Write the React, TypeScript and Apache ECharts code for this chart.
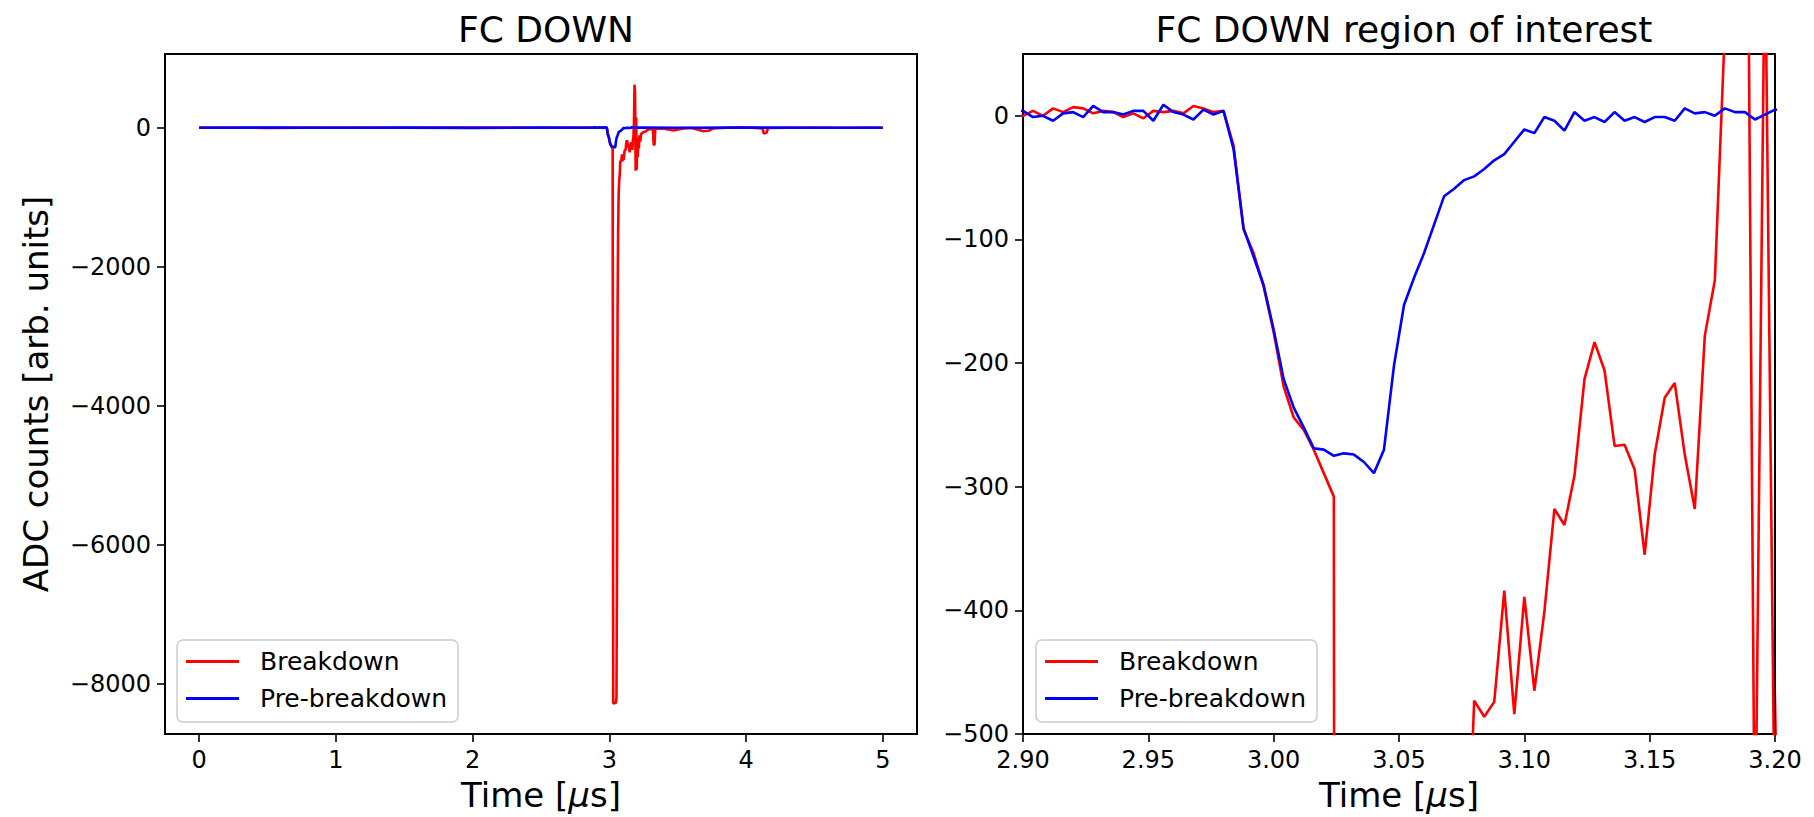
import React, { useEffect, useRef } from "react";
import * as echarts from "echarts";

// Baseline before the region of interest (µs, ADC counts)
const baselineTime = [0, 0.5, 1.0, 1.5, 2.0, 2.5, 2.85];
const breakdownBaseline = [1, -2, 2, 0, 3, -1, 2];
const preBreakdownBaseline = [0, 2, -1, 1, -2, 1, 0];

// Region of interest, one sample every 4 ns
const roiTime = [
  2.9, 2.904, 2.908, 2.912, 2.916, 2.92, 2.924, 2.928, 2.932, 2.936,
  2.94, 2.944, 2.948, 2.952, 2.956, 2.96, 2.964, 2.968, 2.972, 2.976,
  2.98, 2.984, 2.988, 2.992, 2.996, 3.0, 3.004, 3.008, 3.012, 3.016,
  3.02, 3.024, 3.028, 3.032, 3.036, 3.04, 3.044, 3.048, 3.052, 3.056,
  3.06, 3.064, 3.068, 3.072, 3.076, 3.08, 3.084, 3.088, 3.092, 3.096,
  3.1, 3.104, 3.108, 3.112, 3.116, 3.12, 3.124, 3.128, 3.132, 3.136,
  3.14, 3.144, 3.148, 3.152, 3.156, 3.16, 3.164, 3.168, 3.172, 3.176,
  3.18, 3.184, 3.188, 3.192, 3.196, 3.2,
];
const breakdownRoi = [
  0, 4, 0, 6, 3, 7, 6, 2, 4, 3,
  -1, 2, -2, 4, 3, 4, 2, 8, 6, 3,
  4, -24, -92, -111, -138, -175, -219, -244, -254, -270,
  -289, -308, -8270, -8280, -8280, -8275, -8280, -8270, -8200, -6200,
  -2650, -1500, -950, -760, -680, -473, -486, -474, -384, -484,
  -389, -465, -401, -318, -331, -291, -213, -183, -206, -267,
  -266, -286, -355, -274, -228, -216, -274, -318, -178, -133,
  70, 619, 500, -620, 150, -600,
];
const preBreakdownRoi = [
  4, -1, 0, -4, 2, 3, -1, 8, 3, 3,
  1, 4, 4, -4, 9, 3, 1, -3, 5, 1,
  4, -27, -91, -114, -137, -173, -213, -236, -252, -269,
  -270, -275, -273, -274, -280, -289, -270, -202, -153, -131,
  -111, -88, -65, -59, -52, -49, -43, -36, -31, -21,
  -11, -14, -1, -4, -12, 3, -4, -1, -5, 3,
  -4, -1, -5, -1, -1, -4, 6, 2, 3, 0,
  6, 3, 3, -3, 1, 5,
];

// Ringing after the region of interest
const breakdownTailTime = [
  3.204, 3.208, 3.212, 3.216, 3.22, 3.226, 3.232, 3.24, 3.25, 3.265,
  3.28, 3.3, 3.318, 3.324, 3.33, 3.336, 3.36, 3.4, 3.44, 3.47,
  3.5, 3.55, 3.6, 3.65, 3.69, 3.73, 3.76, 3.85, 3.95, 4.05,
  4.12, 4.13, 4.15, 4.16, 4.3, 4.5, 4.7, 4.9, 5.0,
];
const breakdownTail = [
  -180, -420, -150, -300, -110, -200, -90, -80, -60, -55,
  -30, -20, -15, -240, -250, -20, -10, -15, -30, -40,
  -25, -10, -5, -30, -50, -40, -10, 0, 5, 0,
  -10, -85, -70, -5, 0, 3, 0, 2, 0,
];
const preBreakdownTailTime = [3.25, 3.5, 4.0, 4.5, 5.0];
const preBreakdownTail = [2, 0, 2, -1, 0];

const leftXTicks = [0, 1, 2, 3, 4, 5];
const leftYTicks = [-8000, -6000, -4000, -2000, 0];
const roiXTicks = [2.9, 2.95, 3.0, 3.05, 3.1, 3.15, 3.2];
const roiYTicks = [-500, -400, -300, -200, -100, 0];

const FONT = '"DejaVu Sans", sans-serif';
const RED = "#ff0000";
const BLUE = "#0000ff";

const pairs = (t: number[], v: number[]) => t.map((x, i) => [x, v[i]]);

const breakdownData = [
  ...pairs(baselineTime, breakdownBaseline),
  ...pairs(roiTime, breakdownRoi),
  ...pairs(breakdownTailTime, breakdownTail),
];
const preBreakdownData = [
  ...pairs(baselineTime, preBreakdownBaseline),
  ...pairs(roiTime, preBreakdownRoi),
  ...pairs(preBreakdownTailTime, preBreakdownTail),
];

const minus = (v: number) => (v < 0 ? "\u2212" + Math.abs(v) : String(v));

function valueAxis(opts: {
  gridIndex: number;
  min: number;
  max: number;
  ticks: number[];
  fmt: (v: number) => string;
  name?: string;
  nameGap?: number;
  rich?: any;
}) {
  return {
    type: "value",
    gridIndex: opts.gridIndex,
    min: opts.min,
    max: opts.max,
    axisLine: { show: true, onZero: false, lineStyle: { color: "#000", width: 2 } },
    axisTick: {
      show: true,
      inside: false,
      length: 8,
      customValues: opts.ticks,
      lineStyle: { color: "#000", width: 1.6 },
    },
    axisLabel: {
      show: true,
      customValues: opts.ticks,
      formatter: opts.fmt,
      fontSize: 24,
      fontFamily: FONT,
      color: "#000",
      margin: 14,
      showMinLabel: true,
      showMaxLabel: true,
    },
    splitLine: { show: false },
    name: opts.name,
    nameLocation: "middle",
    nameGap: opts.nameGap,
    nameTextStyle: {
      fontSize: 34,
      fontFamily: FONT,
      color: "#000",
      rich: opts.rich,
    },
  };
}

function lineSeries(name: string, color: string, data: number[][], idx: number, z: number) {
  return {
    type: "line",
    name,
    xAxisIndex: idx,
    yAxisIndex: idx,
    data,
    color,
    showSymbol: false,
    symbol: "none",
    clip: true,
    lineStyle: { color, width: 2.6 },
    itemStyle: { color },
    emphasis: { disabled: true },
    z,
  };
}

function legendAt(left: number) {
  return {
    left,
    top: 640,
    orient: "vertical",
    data: ["Breakdown", "Pre-breakdown"],
    icon: "rect",
    itemWidth: 53,
    itemHeight: 3,
    itemGap: 12,
    padding: [9, 11, 11, 9],
    backgroundColor: "rgba(255,255,255,0.8)",
    borderColor: "#cccccc",
    borderWidth: 1.5,
    borderRadius: 6,
    selectedMode: false,
    textStyle: {
      fontSize: 25,
      fontFamily: FONT,
      color: "#000",
      padding: [0, 0, 0, 16],
    },
  };
}

export default function App() {
  const ref = useRef<HTMLDivElement>(null);

  useEffect(() => {
    if (!ref.current) return;
    const chart = echarts.init(ref.current, undefined, { renderer: "svg" });
    const timeRich = { mu: { fontStyle: "italic", fontSize: 34, fontFamily: FONT, color: "#000" } };
    chart.setOption({
      animation: false,
      backgroundColor: "#ffffff",
      title: [
        {
          text: "FC DOWN",
          left: 541,
          top: 6,
          textAlign: "center",
          textStyle: { fontSize: 36, fontWeight: "normal", fontFamily: FONT, color: "#000" },
        },
        {
          text: "FC DOWN region of interest",
          left: 1399,
          top: 6,
          textAlign: "center",
          textStyle: { fontSize: 36, fontWeight: "normal", fontFamily: FONT, color: "#000" },
        },
      ],
      grid: [
        { left: 165, top: 54, width: 752, height: 680, show: true, borderColor: "#000", borderWidth: 2 },
        { left: 1023, top: 54, width: 752, height: 680, show: true, borderColor: "#000", borderWidth: 2 },
      ],
      xAxis: [
        valueAxis({
          gridIndex: 0, min: -0.25, max: 5.25, ticks: leftXTicks, fmt: (v) => String(v),
          name: "Time [{mu|\u03bc}s]", nameGap: 44, rich: timeRich,
        }),
        valueAxis({
          gridIndex: 1, min: 2.9, max: 3.2, ticks: roiXTicks, fmt: (v) => v.toFixed(2),
          name: "Time [{mu|\u03bc}s]", nameGap: 44, rich: timeRich,
        }),
      ],
      yAxis: [
        valueAxis({
          gridIndex: 0, min: -8720, max: 1060, ticks: leftYTicks, fmt: minus,
          name: "ADC counts [arb. units]", nameGap: 112,
        }),
        valueAxis({ gridIndex: 1, min: -500, max: 50, ticks: roiYTicks, fmt: minus }),
      ],
      legend: [legendAt(177), legendAt(1036)],
      series: [
        lineSeries("Breakdown", RED, breakdownData, 0, 2),
        lineSeries("Pre-breakdown", BLUE, preBreakdownData, 0, 3),
        lineSeries("Breakdown", RED, breakdownData, 1, 2),
        lineSeries("Pre-breakdown", BLUE, preBreakdownData, 1, 3),
      ],
    });
    return () => chart.dispose();
  }, []);

  return (
    <div
      ref={ref}
      style={{ position: "fixed", left: 0, top: 0, width: 1814, height: 817, background: "#fff" }}
    />
  );
}
